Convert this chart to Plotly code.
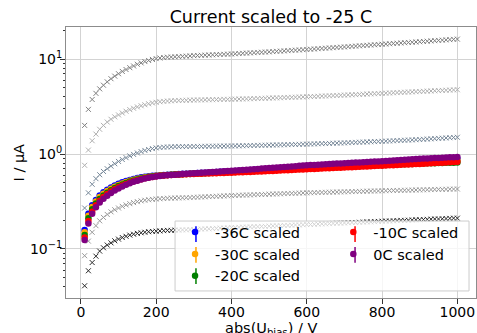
import plotly.graph_objects as go

# Bias voltage steps (V)
voltage = list(range(10, 1001, 10))

# Raw leakage currents (uA) per temperature
raw_0C = [2.0, 2.95, 3.75, 4.35, 4.85, 5.3, 5.75, 6.2, 6.6, 7.0, 7.4, 7.75, 8.1, 8.45, 8.8, 9.1, 9.4, 9.65, 9.9, 10.1, 10.25, 10.35, 10.45, 10.5, 10.55,
          10.6, 10.66, 10.72, 10.78, 10.85,
          10.89, 10.94, 10.98, 11.03, 11.07, 11.12, 11.16, 11.21, 11.25, 11.3,
          11.36, 11.42, 11.48, 11.54, 11.6, 11.66, 11.72, 11.78, 11.84, 11.9,
          11.97, 12.04, 12.11, 12.18, 12.25, 12.32, 12.39, 12.46, 12.53, 12.6,
          12.68, 12.76, 12.84, 12.92, 13.0, 13.08, 13.16, 13.24, 13.32, 13.4,
          13.49, 13.58, 13.67, 13.76, 13.85, 13.94, 14.03, 14.12, 14.21, 14.3,
          14.39, 14.48, 14.57, 14.66, 14.75, 14.84, 14.93, 15.02, 15.11, 15.2,
          15.3, 15.4, 15.5, 15.6, 15.7, 15.8, 15.9, 16.0, 16.1, 16.2]
raw_m10C = [0.76, 1.1, 1.38, 1.62, 1.82, 2.0, 2.17, 2.32, 2.46, 2.58, 2.7, 2.82, 2.93, 3.03, 3.13, 3.22, 3.3, 3.38, 3.45, 3.5, 3.55, 3.58, 3.61, 3.63, 3.65,
            3.66, 3.67, 3.68, 3.69, 3.7,
            3.71, 3.71, 3.72, 3.73, 3.73, 3.74, 3.75, 3.76, 3.76, 3.77,
            3.78, 3.79, 3.80, 3.81, 3.82, 3.83, 3.84, 3.85, 3.86, 3.88,
            3.89, 3.90, 3.91, 3.93, 3.94, 3.95, 3.96, 3.98, 3.99, 4.0,
            4.02, 4.03, 4.05, 4.07, 4.08, 4.1, 4.12, 4.13, 4.15, 4.17,
            4.19, 4.2, 4.22, 4.24, 4.26, 4.28, 4.3, 4.31, 4.33, 4.35,
            4.37, 4.39, 4.41, 4.43, 4.45, 4.47, 4.49, 4.51, 4.53, 4.55,
            4.57, 4.59, 4.61, 4.63, 4.65, 4.67, 4.69, 4.71, 4.73, 4.75]
raw_m20C = [0.27, 0.39, 0.48, 0.55, 0.605, 0.655, 0.70, 0.745, 0.79, 0.835, 0.875, 0.915, 0.955, 0.99, 1.025, 1.06, 1.09, 1.115, 1.14, 1.16, 1.17, 1.18, 1.185, 1.19, 1.195,
            1.196, 1.197, 1.198, 1.199, 1.2,
            1.201, 1.203, 1.204, 1.206, 1.207, 1.209, 1.21, 1.212, 1.213, 1.215,
            1.217, 1.219, 1.222, 1.224, 1.227, 1.229, 1.232, 1.234, 1.237, 1.24,
            1.243, 1.246, 1.249, 1.252, 1.255, 1.258, 1.261, 1.264, 1.267, 1.27,
            1.274, 1.278, 1.282, 1.286, 1.29, 1.294, 1.298, 1.302, 1.306, 1.31,
            1.315, 1.32, 1.325, 1.33, 1.335, 1.34, 1.345, 1.35, 1.355, 1.36,
            1.366, 1.372, 1.378, 1.384, 1.39, 1.396, 1.402, 1.408, 1.414, 1.42,
            1.428, 1.436, 1.444, 1.452, 1.46, 1.468, 1.476, 1.484, 1.492, 1.5]
raw_m30C = [0.085, 0.121, 0.15, 0.176, 0.198, 0.215, 0.231, 0.246, 0.259, 0.27, 0.281, 0.291, 0.3, 0.308, 0.315, 0.321, 0.326, 0.33, 0.333, 0.336, 0.338, 0.34, 0.342, 0.343, 0.344,
            0.345, 0.346, 0.347, 0.348, 0.35,
            0.351, 0.353, 0.354, 0.356, 0.357, 0.359, 0.36, 0.362, 0.363, 0.365,
            0.366, 0.368, 0.369, 0.37, 0.371, 0.373, 0.374, 0.375, 0.376, 0.378,
            0.379, 0.38, 0.381, 0.383, 0.384, 0.385, 0.386, 0.388, 0.389, 0.39,
            0.391, 0.392, 0.393, 0.394, 0.395, 0.396, 0.397, 0.398, 0.399, 0.4,
            0.401, 0.402, 0.403, 0.404, 0.405, 0.406, 0.407, 0.408, 0.409, 0.41,
            0.411, 0.412, 0.413, 0.413, 0.414, 0.415, 0.416, 0.417, 0.418, 0.419,
            0.42, 0.421, 0.422, 0.423, 0.424, 0.424, 0.425, 0.426, 0.427, 0.428]
raw_m36C = [0.041, 0.059, 0.072, 0.084, 0.095, 0.103, 0.11, 0.116, 0.122, 0.127, 0.132, 0.136, 0.14, 0.143, 0.146, 0.148, 0.15, 0.152, 0.153, 0.154, 0.155, 0.156, 0.157, 0.157, 0.158,
            0.158, 0.159, 0.159, 0.16, 0.16,
            0.161, 0.162, 0.163, 0.163, 0.164, 0.165, 0.166, 0.166, 0.167, 0.168,
            0.168, 0.169, 0.17, 0.17, 0.171, 0.172, 0.172, 0.173, 0.173, 0.174,
            0.175, 0.175, 0.176, 0.177, 0.177, 0.178, 0.179, 0.179, 0.18, 0.181,
            0.181, 0.182, 0.183, 0.184, 0.184, 0.185, 0.186, 0.187, 0.187, 0.188,
            0.189, 0.19, 0.19, 0.191, 0.192, 0.193, 0.193, 0.194, 0.195, 0.196,
            0.197, 0.197, 0.198, 0.199, 0.2, 0.2, 0.201, 0.202, 0.203, 0.203,
            0.204, 0.205, 0.206, 0.207, 0.207, 0.208, 0.209, 0.21, 0.211, 0.211]

# Currents scaled to -25 C (uA)
scaled_m36C = [0.158, 0.235, 0.288, 0.328, 0.365, 0.395, 0.42, 0.443, 0.465, 0.485, 0.503, 0.519, 0.534, 0.547, 0.558, 0.568, 0.576, 0.583, 0.589, 0.594, 0.598, 0.602, 0.606, 0.609, 0.612,
               0.615, 0.618, 0.621, 0.624, 0.627,
               0.63, 0.633, 0.636, 0.64, 0.643, 0.646, 0.65, 0.653, 0.657, 0.66,
               0.664, 0.667, 0.671, 0.674, 0.678, 0.682, 0.685, 0.689, 0.693, 0.697,
               0.701, 0.705, 0.709, 0.713, 0.717, 0.721, 0.725, 0.729, 0.733, 0.737,
               0.741, 0.745, 0.749, 0.753, 0.757, 0.762, 0.766, 0.77, 0.774, 0.778,
               0.782, 0.786, 0.79, 0.794, 0.798, 0.803, 0.807, 0.811, 0.815, 0.819,
               0.823, 0.827, 0.831, 0.835, 0.839, 0.843, 0.847, 0.851, 0.855, 0.86,
               0.863, 0.866, 0.869, 0.872, 0.874, 0.876, 0.878, 0.88, 0.882, 0.885]
scaled_m30C = [0.150, 0.224, 0.276, 0.317, 0.352, 0.381, 0.407, 0.43, 0.452, 0.472, 0.49, 0.507, 0.522, 0.536, 0.548, 0.559, 0.568, 0.576, 0.583, 0.589, 0.594, 0.598, 0.602, 0.605, 0.608,
               0.611, 0.614, 0.617, 0.62, 0.623,
               0.626, 0.629, 0.632, 0.635, 0.638, 0.641, 0.644, 0.647, 0.65, 0.653,
               0.656, 0.66, 0.663, 0.666, 0.67, 0.673, 0.676, 0.68, 0.683, 0.687,
               0.69, 0.694, 0.697, 0.701, 0.704, 0.708, 0.711, 0.715, 0.718, 0.722,
               0.725, 0.729, 0.732, 0.736, 0.739, 0.743, 0.746, 0.75, 0.753, 0.757,
               0.76, 0.764, 0.767, 0.771, 0.774, 0.778, 0.781, 0.785, 0.788, 0.792,
               0.795, 0.799, 0.802, 0.806, 0.809, 0.813, 0.816, 0.82, 0.823, 0.827,
               0.83, 0.833, 0.837, 0.84, 0.843, 0.847, 0.85, 0.853, 0.857, 0.86]
scaled_m20C = [0.14, 0.211, 0.262, 0.302, 0.336, 0.366, 0.392, 0.416, 0.438, 0.459, 0.478, 0.496, 0.512, 0.527, 0.54, 0.552, 0.562, 0.571, 0.579, 0.586, 0.592, 0.597, 0.601, 0.604, 0.607,
               0.61, 0.612, 0.615, 0.617, 0.62,
               0.622, 0.625, 0.627, 0.63, 0.632, 0.635, 0.637, 0.64, 0.642, 0.645,
               0.648, 0.65, 0.653, 0.656, 0.659, 0.661, 0.664, 0.667, 0.67, 0.673,
               0.676, 0.679, 0.682, 0.685, 0.688, 0.691, 0.694, 0.697, 0.7, 0.703,
               0.706, 0.709, 0.712, 0.715, 0.718, 0.721, 0.724, 0.727, 0.73, 0.733,
               0.736, 0.739, 0.742, 0.745, 0.748, 0.751, 0.754, 0.757, 0.76, 0.763,
               0.766, 0.769, 0.772, 0.775, 0.778, 0.781, 0.784, 0.787, 0.79, 0.793,
               0.795, 0.797, 0.799, 0.801, 0.803, 0.805, 0.807, 0.809, 0.81, 0.812]
scaled_m10C = [0.132, 0.197, 0.247, 0.288, 0.322, 0.352, 0.379, 0.403, 0.426, 0.447, 0.466, 0.484, 0.501, 0.516, 0.53, 0.543, 0.555, 0.565, 0.574, 0.582, 0.589, 0.594, 0.598, 0.602, 0.605,
               0.608, 0.61, 0.612, 0.614, 0.616,
               0.618, 0.62, 0.622, 0.624, 0.626, 0.628, 0.63, 0.632, 0.634, 0.636,
               0.638, 0.641, 0.643, 0.646, 0.648, 0.651, 0.653, 0.656, 0.658, 0.661,
               0.664, 0.667, 0.67, 0.673, 0.676, 0.679, 0.682, 0.685, 0.688, 0.691,
               0.694, 0.697, 0.7, 0.703, 0.706, 0.709, 0.712, 0.715, 0.718, 0.721,
               0.724, 0.727, 0.73, 0.733, 0.737, 0.74, 0.743, 0.746, 0.75, 0.753,
               0.756, 0.76, 0.763, 0.766, 0.77, 0.773, 0.776, 0.78, 0.783, 0.787,
               0.791, 0.795, 0.799, 0.803, 0.807, 0.811, 0.815, 0.819, 0.823, 0.827]
scaled_0C = [0.124, 0.185, 0.235, 0.275, 0.308, 0.337, 0.364, 0.389, 0.412, 0.434, 0.455, 0.474, 0.492, 0.509, 0.524, 0.538, 0.551, 0.562, 0.572, 0.58, 0.587, 0.593, 0.598, 0.602, 0.606,
             0.61, 0.614, 0.618, 0.622, 0.626,
             0.63, 0.634, 0.638, 0.642, 0.646, 0.65, 0.654, 0.658, 0.662, 0.666,
             0.67, 0.675, 0.679, 0.684, 0.688, 0.693, 0.697, 0.702, 0.706, 0.711,
             0.716, 0.72, 0.725, 0.73, 0.735, 0.74, 0.745, 0.75, 0.755, 0.76,
             0.764, 0.768, 0.772, 0.776, 0.78, 0.784, 0.788, 0.792, 0.796, 0.8,
             0.804, 0.808, 0.812, 0.816, 0.82, 0.824, 0.828, 0.832, 0.836, 0.84,
             0.845, 0.85, 0.855, 0.86, 0.865, 0.87, 0.875, 0.88, 0.885, 0.89,
             0.894, 0.898, 0.902, 0.906, 0.91, 0.914, 0.918, 0.922, 0.926, 0.93]

# Relative uncertainty of the scaled currents (%)
scaled_err_pct = 2.5

FONT = "DejaVu Sans"

fig = go.Figure()

raw_series = [
    (raw_0C, "#7f7f7f"),
    (raw_m10C, "#b0b0b0"),
    (raw_m20C, "#778899"),
    (raw_m30C, "#9a9a9a"),
    (raw_m36C, "#2a2a2a"),
]
for values, color in raw_series:
    fig.add_trace(go.Scatter(
        x=voltage, y=values, mode="markers", showlegend=False,
        marker=dict(symbol="x-thin", size=5, line=dict(width=1, color=color)),
    ))

# (label, values, colour, legend column)
scaled_series = [
    ("-36C scaled", scaled_m36C, "#0000ff", "legend"),
    ("-30C scaled", scaled_m30C, "#ffa500", "legend"),
    ("-20C scaled", scaled_m20C, "#008000", "legend"),
    ("-10C scaled", scaled_m10C, "#ff0000", "legend2"),
    ("0C scaled", scaled_0C, "#800080", "legend2"),
]
for name, values, color, leg in scaled_series:
    fig.add_trace(go.Scatter(
        x=voltage, y=values, mode="markers", name=name, legend=leg,
        marker=dict(symbol="circle", size=6.5, color=color),
        error_y=dict(type="percent", value=scaled_err_pct, color=color,
                     thickness=1, width=0),
    ))

major_y = [0.1, 1, 10]
minor_y = [m * d for d in (0.01, 0.1, 1, 10) for m in range(2, 10)]

legend_common = dict(
    xanchor="left", yanchor="top", bgcolor="rgba(0,0,0,0)", borderwidth=0,
    font=dict(size=14.5, family=FONT), tracegroupgap=0, itemwidth=30,
)

# legend frame plus the error-bar stroke drawn through each legend symbol
legend_shapes = [
    dict(type="rect", xref="paper", yref="paper",
         x0=0.266, x1=0.983, y0=0.026, y1=0.284, layer="above",
         fillcolor="rgba(255,255,255,0.8)",
         line=dict(color="#cccccc", width=1)),
]
glyph_slots = [(0.317, 0.236), (0.317, 0.159), (0.317, 0.081),
               (0.705, 0.236), (0.705, 0.159)]
for (gx, gy), (_, _, color, _) in zip(glyph_slots, scaled_series):
    legend_shapes.append(dict(
        type="line", xref="paper", yref="paper", layer="above",
        x0=gx, x1=gx, y0=gy - 0.029, y1=gy + 0.029,
        line=dict(color=color, width=1.5)))

fig.update_layout(
    width=477, height=333,
    margin=dict(l=66, r=1, t=27, b=35, autoexpand=False),
    paper_bgcolor="white", plot_bgcolor="white",
    font=dict(family=FONT, size=14, color="#000000"),
    title=dict(text="Current scaled to -25 C", x=0.568, xanchor="center",
               y=0.95, yanchor="middle", font=dict(size=17.5, family=FONT)),
    legend=dict(x=0.266, y=0.302, **legend_common),
    legend2=dict(x=0.652, y=0.302, **legend_common),
    shapes=legend_shapes,
    xaxis=dict(
        range=[-39.5, 1049.5], tickvals=[0, 200, 400, 600, 800, 1000],
        showgrid=True, gridcolor="#d3d3d3", gridwidth=1, zeroline=False,
        showline=True, linecolor="#8c8c8c", linewidth=1, mirror=True,
        ticks="outside", ticklen=5, tickcolor="#333333",
        tickfont=dict(size=14, family=FONT), ticklabelstandoff=-4,
    ),
    yaxis=dict(
        type="log", range=[-1.516, 1.337],
        tickvals=major_y,
        ticktext=["10<sup>\u22121</sup>", "10<sup>0</sup>", "10<sup>1</sup>"],
        showgrid=True, gridcolor="#d3d3d3", gridwidth=1, zeroline=False,
        showline=True, linecolor="#8c8c8c", linewidth=1, mirror=True,
        ticks="outside", ticklen=5, tickcolor="#333333",
        tickfont=dict(size=14, family=FONT), ticklabelstandoff=-5,
        minor=dict(tickvals=minor_y, ticks="outside", ticklen=2.5,
                   tickcolor="#333333", showgrid=False),
    ),
    annotations=[
        dict(text="I / \u00b5A", xref="paper", yref="paper", x=0, y=0.5,
             xshift=-48, textangle=-90, showarrow=False,
             font=dict(size=14.5, family=FONT), xanchor="center", yanchor="middle"),
        dict(text="abs(U<sub>bias</sub>) / V", xref="paper", yref="paper",
             x=0.5, y=0, yshift=-20, showarrow=False, xanchor="center", yanchor="top",
             font=dict(size=14.5, family=FONT)),
    ],
)

fig.write_html("out.html")
